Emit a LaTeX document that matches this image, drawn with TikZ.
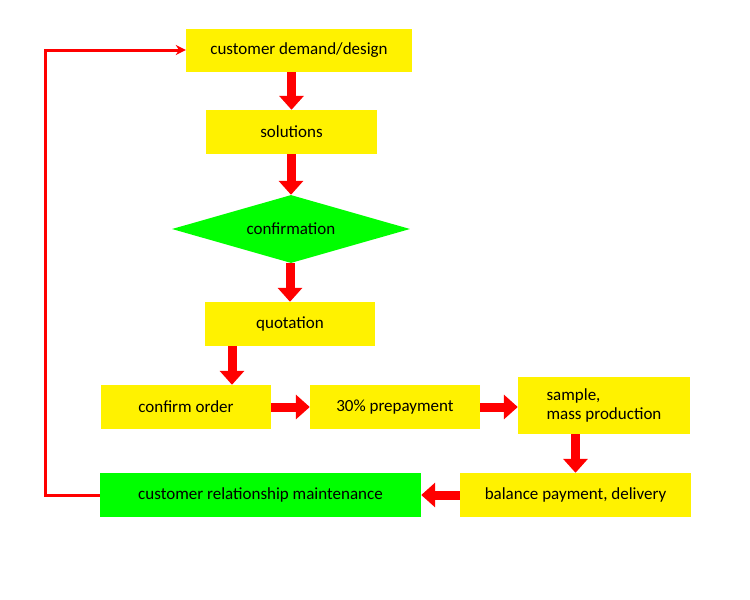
\documentclass[tikz,border=0pt]{standalone}
\usepackage{fontspec}
\setmainfont{Carlito}
\usetikzlibrary{shapes.geometric,arrows.meta}
\begin{document}
\begin{tikzpicture}[x=1pt,y=-1pt,
  box/.style={fill=yellow,draw=none,inner sep=0pt,font=\fontsize{17}{19}\selectfont,align=left},
  gbox/.style={box,fill=green},
  fat/.style={draw=red,line width=9pt,-{Triangle[width=24pt,length=14pt]}},
  thin/.style={draw=red,line width=3pt,-{Stealth[width=10pt,length=10pt]}}]
\useasboundingbox (0,0) rectangle (750,600);
\node[box,minimum width=226pt,minimum height=43pt] (dem) at (299,50.5) {customer demand/design};
\node[box,minimum width=171pt,minimum height=44pt] (sol) at (291.5,132) {solutions};
\node[diamond,aspect=3.5,fill=green,inner sep=0pt,minimum width=238pt,minimum height=68pt,font=\fontsize{17}{19}\selectfont] (conf) at (291,229) {confirmation};
\node[box,minimum width=170pt,minimum height=44pt] (quo) at (290,324) {quotation};
\node[box,minimum width=170pt,minimum height=44pt] (co) at (186,407) {confirm order};
\node[box,minimum width=170pt,minimum height=44pt] (pre) at (395,407) {30\% prepayment};
\node[box,minimum width=172pt,minimum height=57pt] (smp) at (604,405.5) {sample,\\ mass production};
\node[box,minimum width=231pt,minimum height=44pt] (bal) at (575.5,495) {balance payment, delivery};
\node[gbox,minimum width=321pt,minimum height=44pt] (crm) at (260.5,495) {customer relationship maintenance};
\draw[fat] (dem.south -| sol.north) -- (sol.north);
\draw[fat] (sol.south -| conf.north) -- (conf.north);
\draw[fat] (conf.south -| quo.north) -- (quo.north);
\draw[fat] ([xshift=46pt]co.north |- quo.south) -- ([xshift=46pt]co.north);
\draw[fat] (co.east) -- (pre.west);
\draw[fat] (pre.east) -- (pre.east -| smp.west);
\draw[fat] (smp.south -| bal.north) -- (bal.north);
\draw[fat] (bal.west) -- (crm.east);
\coordinate (c1) at (45,495);
\coordinate (c2) at (45,50);
\draw[thin] (crm.west) -- (c1) -- (c2) -- (c2 -| dem.west);
\end{tikzpicture}
\end{document}
